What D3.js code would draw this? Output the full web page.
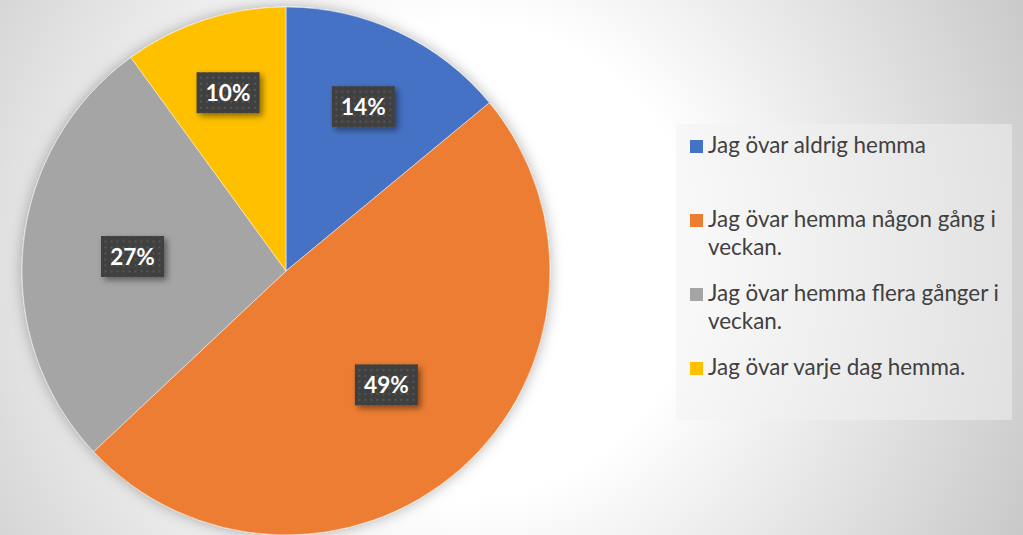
<!DOCTYPE html>
<html lang="sv">
<head>
    <meta charset="UTF-8">
    <title>Övning hemma</title>
    <script src="https://d3js.org/d3.v7.min.js"></script>
    <style>
        html, body { margin: 0; padding: 0; overflow: hidden; }
        svg { display: block; }
    </style>
</head>
<body>
<svg id="chart"></svg>
<script>
    // data
    const categories = [
        "Jag övar aldrig hemma",
        "Jag övar hemma någon gång i veckan.",
        "Jag övar hemma flera gånger i veckan.",
        "Jag övar varje dag hemma."
    ];
    const values = [14, 49, 27, 10];
    const labels = ["14%", "49%", "27%", "10%"];
    const colors = ["#4472C4", "#ED7D31", "#A5A5A5", "#FFC000"];

    const width = 1023, height = 535;
    const cx = 286, cy = 271, radius = 264;

    const svg = d3.select("#chart").attr("width", width).attr("height", height);
    const defs = svg.append("defs");

    // background gradient
    const bg = defs.append("radialGradient")
        .attr("id", "bg")
        .attr("gradientUnits", "userSpaceOnUse")
        .attr("cx", 460).attr("cy", 260).attr("r", 660);
    bg.append("stop").attr("offset", "0").attr("stop-color", "#ffffff");
    bg.append("stop").attr("offset", "0.36").attr("stop-color", "#ffffff");
    bg.append("stop").attr("offset", "1").attr("stop-color", "#c4c4c4");

    const pieShadow = defs.append("filter").attr("id", "pieShadow")
        .attr("x", "-20%").attr("y", "-20%").attr("width", "140%").attr("height", "140%");
    pieShadow.append("feDropShadow")
        .attr("dx", 0).attr("dy", 0).attr("stdDeviation", 7)
        .attr("flood-color", "#000").attr("flood-opacity", 0.3);

    const boxShadow = defs.append("filter").attr("id", "boxShadow")
        .attr("x", "-30%").attr("y", "-30%").attr("width", "160%").attr("height", "160%");
    boxShadow.append("feDropShadow")
        .attr("dx", 3).attr("dy", 3).attr("stdDeviation", 3)
        .attr("flood-color", "#000").attr("flood-opacity", 0.45);

    const dots = defs.append("pattern").attr("id", "dots")
        .attr("patternUnits", "userSpaceOnUse")
        .attr("width", 6).attr("height", 6);
    dots.append("rect").attr("width", 6).attr("height", 6).attr("fill", "#404040");
    dots.append("rect").attr("x", 2).attr("y", 2).attr("width", 2).attr("height", 2).attr("fill", "#565656");

    svg.append("rect").attr("width", width).attr("height", height).attr("fill", "url(#bg)");

    // pie
    const pie = d3.pie().sort(null).value(d => d);
    const arcs = pie(values);
    const arc = d3.arc().innerRadius(0).outerRadius(radius);

    const g = svg.append("g").attr("transform", `translate(${cx},${cy})`);
    g.append("g").attr("filter", "url(#pieShadow)")
        .selectAll("path")
        .data(arcs)
        .enter()
        .append("path")
        .attr("d", arc)
        .attr("fill", (d, i) => colors[i])
        .attr("stroke", "#ffffff")
        .attr("stroke-opacity", 0.6)
        .attr("stroke-width", 0.8);

    // data labels: narrow slices get their label further out
    const total = d3.sum(values);
    const lab = g.selectAll(".lab")
        .data(arcs)
        .enter()
        .append("g")
        .attr("class", "lab")
        .attr("transform", d => {
            const f = d.value / total;
            const r = radius * Math.max(0.575, Math.min(0.71, 0.8 - 0.8 * f));
            const a = (d.startAngle + d.endAngle) / 2;
            return `translate(${r * Math.sin(a)},${-r * Math.cos(a)})`;
        });
    lab.append("rect")
        .attr("x", -31.5).attr("y", -20.5)
        .attr("width", 63).attr("height", 41)
        .attr("fill", "url(#dots)")
        .attr("filter", "url(#boxShadow)");
    lab.append("text")
        .attr("text-anchor", "middle")
        .attr("dy", "0.36em")
        .attr("fill", "#ffffff")
        .attr("font-family", "Lato, 'Open Sans', sans-serif")
        .attr("font-weight", "bold")
        .attr("font-size", 22.5)
        .text((d, i) => labels[i]);

    // legend
    svg.append("rect")
        .attr("x", 676).attr("y", 124)
        .attr("width", 336).attr("height", 296)
        .attr("fill", "#f2f2f2").attr("fill-opacity", 0.5);

    const legend = svg.append("g").attr("transform", "translate(690,153)");
    const item = legend.selectAll(".item")
        .data(categories)
        .enter()
        .append("g")
        .attr("class", "item")
        .attr("transform", (d, i) => `translate(0,${i * 74})`);
    item.append("rect")
        .attr("x", 0).attr("y", -13)
        .attr("width", 13).attr("height", 13)
        .attr("fill", (d, i) => colors[i]);
    item.append("text")
        .attr("x", 18)
        .attr("fill", "#404040")
        .attr("font-family", "Lato, 'Open Sans', sans-serif")
        .attr("font-size", 22.4)
        .each(function(d) {
            const t = d3.select(this);
            const words = d.split(" ");
            let line = [];
            let lineNo = 0;
            let ts = t.append("tspan").attr("x", 18).attr("y", 0);
            words.forEach(w => {
                line.push(w);
                ts.text(line.join(" "));
                if (ts.node().getComputedTextLength() > 305 && line.length > 1) {
                    line.pop();
                    ts.text(line.join(" "));
                    line = [w];
                    lineNo++;
                    ts = t.append("tspan").attr("x", 18).attr("y", lineNo * 28).text(w);
                }
            });
        });
</script>
</body>
</html>
